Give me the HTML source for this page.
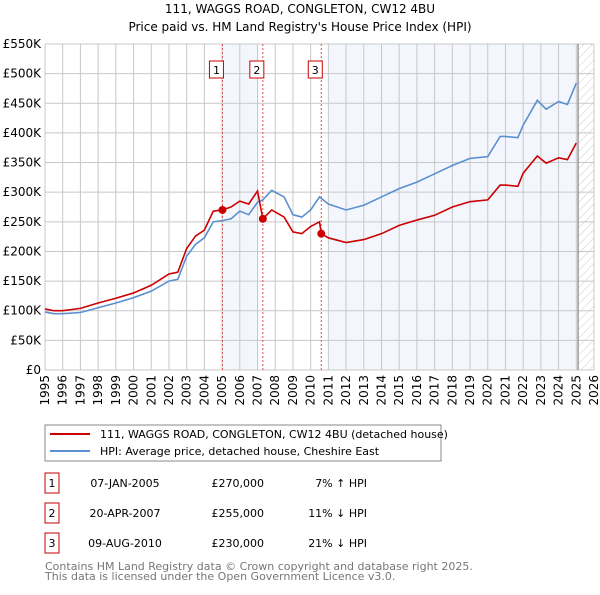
<!DOCTYPE html>
<html><head><meta charset="utf-8"><style>
body{margin:0;background:#fff;}
svg text{font-family:"DejaVu Sans","Liberation Sans",sans-serif;}
</style></head><body>
<svg id="c" width="600" height="590" xmlns="http://www.w3.org/2000/svg">
<defs><pattern id="hatch" width="6" height="6" patternUnits="userSpaceOnUse" patternTransform="rotate(45)"><line x1="0" y1="0" x2="0" y2="6" stroke="#ccc" stroke-width="1"/></pattern></defs>
<text x="300" y="13" text-anchor="middle" font-size="12" fill="#000">111, WAGGS ROAD, CONGLETON, CW12 4BU</text>
<text x="300" y="31" text-anchor="middle" font-size="12" fill="#000">Price paid vs. HM Land Registry's House Price Index (HPI)</text>
<g id="plot"></g>
<rect x="45" y="425" width="396" height="36" fill="#fff" stroke="#888"/>
<line x1="50" y1="434" x2="90" y2="434" stroke="#cc0000" stroke-width="2"/>
<text x="100" y="438" font-size="11">111, WAGGS ROAD, CONGLETON, CW12 4BU (detached house)</text>
<line x1="50" y1="451" x2="90" y2="451" stroke="#5b8fd0" stroke-width="2"/>
<text x="100" y="455" font-size="11">HPI: Average price, detached house, Cheshire East</text>
<g id="table" font-size="11"></g>
<text x="45" y="570" font-size="11" fill="#777">Contains HM Land Registry data © Crown copyright and database right 2025.</text>
<text x="45" y="580" font-size="11" fill="#777">This data is licensed under the Open Government Licence v3.0.</text>
</svg>
<script>
const hpiYears=[1995,1995.5,1996,1997,1998,1999,2000,2001,2002,2002.5,2003,2003.5,2004,2004.5,2005,2005.5,2006,2006.5,2007,2007.3,2007.8,2008.5,2009,2009.5,2010,2010.5,2011,2012,2013,2014,2015,2016,2017,2018,2019,2020,2020.7,2021,2021.7,2022,2022.8,2023.3,2024,2024.5,2025];
const hpiValues=[98,95,95,97,105,113,122,133,150,153,192,212,223,250,252,255,268,262,283,287,303,292,262,258,270,292,280,270,278,292,306,317,331,345,357,360,394,394,392,413,455,440,453,448,484];
const redYears=[1995,1995.5,1996,1997,1998,1999,2000,2001,2002,2002.5,2003,2003.5,2004,2004.5,2005,2005.5,2006,2006.5,2007,2007.3,2007.8,2008.5,2009,2009.5,2010,2010.5,2010.6,2011,2012,2013,2014,2015,2016,2017,2018,2019,2020,2020.7,2021,2021.7,2022,2022.8,2023.3,2024,2024.5,2025];
const redValues=[103,100,100,104,113,121,130,143,162,165,205,226,236,268,270,275,285,280,302,255,270,258,233,230,242,250,230,223,215,220,230,244,253,261,275,284,287,312,312,310,332,361,349,358,355,383];
const saleYears=[2005.02,2007.3,2010.6];
const saleValues=[270,255,230];
const saleLabels=["1","2","3"];
const yTicks=[0,50,100,150,200,250,300,350,400,450,500,550];
const yTickLabels=["£0","£50K","£100K","£150K","£200K","£250K","£300K","£350K","£400K","£450K","£500K","£550K"];
const xTicks=[1995,1996,1997,1998,1999,2000,2001,2002,2003,2004,2005,2006,2007,2008,2009,2010,2011,2012,2013,2014,2015,2016,2017,2018,2019,2020,2021,2022,2023,2024,2025,2026];
const tableDates=["07-JAN-2005","20-APR-2007","09-AUG-2010"];
const tablePrices=["£270,000","£255,000","£230,000"];
const tableHpi=["7% ↑ HPI","11% ↓ HPI","21% ↓ HPI"];

const NS="http://www.w3.org/2000/svg";
const X0=45,X1=594,Y0=370,Y1=44;
const xs=y=>X0+(y-1995)/(2026-1995)*(X1-X0);
const ys=v=>Y0-v/550*(Y0-Y1);
function mk(tag,attrs,parent){const e=document.createElementNS(NS,tag);for(const k in attrs)e.setAttribute(k,attrs[k]);parent.appendChild(e);return e;}
const g=document.getElementById('plot');
let r=mk('rect',{x:xs(2005.02),y:Y1,width:xs(2007.0)-xs(2005.02),height:Y0-Y1,fill:'#eef3fc',opacity:0.7},g);


r=mk('rect',{x:xs(2011.0),y:Y1,width:xs(2025.0)-xs(2011.0),height:Y0-Y1,fill:'#eef3fc',opacity:0.7},g);


r=mk('rect',{x:xs(2025.1),y:Y1,width:X1-xs(2025.1),height:Y0-Y1,fill:'url(#hatch)'},g);


yTicks.forEach((t,i)=>{
 const l=mk('line',{x1:X0,x2:X1,y1:ys(t),y2:ys(t),stroke:'#c8c8c8'},g);
 
 
 const tx=mk('text',{x:X0-4,y:ys(t)+4,'text-anchor':'end','font-size':12},g);
 tx.textContent=yTickLabels[i];
 
 
});
xTicks.forEach(t=>{
 const l=mk('line',{x1:xs(t),x2:xs(t),y1:Y1,y2:Y0,stroke:'#c8c8c8'},g);
 
 
 const tx=mk('text',{x:0,y:0,'text-anchor':'end','font-size':12,transform:`translate(${xs(t)+4},${Y0+5}) rotate(-90)`},g);
 tx.textContent=t;
 
 
});
const vl=mk('line',{x1:xs(2025.1),x2:xs(2025.1),y1:Y1,y2:Y0,stroke:'#999','stroke-width':1.5},g);


saleYears.forEach((s,i)=>{
 const l=mk('line',{x1:xs(s),x2:xs(s),y1:Y1,y2:Y0,stroke:'#e05050','stroke-dasharray':'2,2'},g);
 
 
 const b=mk('rect',{x:xs(s)-13,y:61,width:14,height:17,fill:'#fff',stroke:'#cc0000'},g);
 
 
 const tx=mk('text',{x:xs(s)-6,y:74,'text-anchor':'middle','font-size':11},g);
 tx.textContent=saleLabels[i];
 
 
});
const line=(yrs,vals,col,name)=>{const p=mk('polyline',{points:yrs.map((y,i)=>xs(y)+','+ys(vals[i])).join(' '),fill:'none',stroke:col,'stroke-width':1.6},g);
 
 };
line(hpiYears,hpiValues,'#5b8fd0','hpi-line');
line(redYears,redValues,'#cc0000','property-line');
saleYears.forEach((s,i)=>{
 const c=mk('circle',{cx:xs(s),cy:ys(saleValues[i]),r:4,fill:'#cc0000'},g);
 
 
});
const tb=document.getElementById('table');
[483,513,543].forEach((cy,i)=>{
 const b=mk('rect',{x:45,y:cy-10,width:14,height:20,fill:'#fff',stroke:'#cc0000'},tb);
 
 
 const t=[[52,'middle',saleLabels[i]],[125,'middle',tableDates[i]],[264,'end',tablePrices[i]],[367,'end',tableHpi[i]]];
 t.forEach(([x,a,s],j)=>{const e=mk('text',{x:x,y:cy+4,'text-anchor':a},tb);e.textContent=s;
  
  });
});
</script>
</body></html>
